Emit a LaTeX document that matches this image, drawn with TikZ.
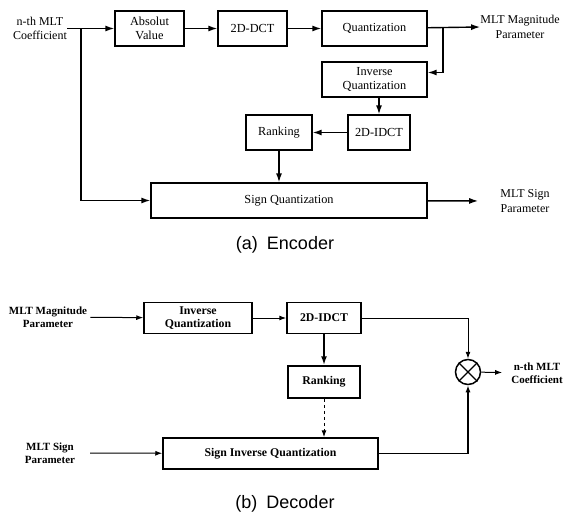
\documentclass[tikz,border=0pt]{standalone}
\usepackage{fontspec}
\setmainfont{Liberation Serif}
\newfontfamily\capfont{Liberation Sans}
\usetikzlibrary{arrows.meta}

\begin{document}
\begin{tikzpicture}[x=1pt, y=-1pt,
  blk/.style={draw, line width=1.3pt, minimum height=35pt, inner sep=1pt, align=center, font=\fontsize{12.3}{14.5}\selectfont},
  dblk/.style={blk, line width=1.5pt, minimum height=31pt, font=\bfseries\fontsize{11.8}{13}\selectfont},
  lbl/.style={align=center, inner sep=0pt, font=\fontsize{12}{14.5}\selectfont},
  dlbl/.style={lbl, font=\bfseries\fontsize{11}{13}\selectfont},
  arr/.style={-{Latex[length=9pt,width=6pt]}, line width=1.4pt},
  darr/.style={-{Latex[length=7pt,width=5pt]}, line width=1pt},
  capt/.style={font=\capfont\fontsize{18}{20}\selectfont}]
  \useasboundingbox (0,0) rectangle (564,516);
  % encoder
  \node[lbl] (cin) at (40,28.5) {n-th MLT\\Coefficient};
  \node[blk, minimum width=69pt] (av) at (149.5,28.5) {Absolut\\Value};
  \node[blk, minimum width=69pt] (dct) at (252.5,28.5) {2D-DCT};
  \node[blk, minimum width=105pt] (quant) at (374.5,28.5) {Quantization};
  \node[blk, minimum width=105pt] (iquant) at (374.5,79.5) {Inverse\\Quantization};
  \node[blk, minimum width=62pt] (idct) at (379,132.5) {2D-IDCT};
  \node[blk, minimum width=66pt] (rank) at (279,132.5) {Ranking};
  \node[blk, minimum width=276pt] (signq) at (289,200.5) {Sign Quantization};
  \node[lbl] (magout) at (520,27) {MLT Magnitude\\Parameter};
  \node[lbl] (signout) at (525,201) {MLT Sign\\Parameter};
  \coordinate (br1) at (81,28.5);
  \coordinate (br2) at (443,28.5);
  \draw[arr] (cin.east) -- (av.west);
  \draw[arr] (av) -- (dct);
  \draw[arr] (dct) -- (quant);
  \draw[arr] (quant) -- (magout.west);
  \draw[arr] (br2) |- ([yshift=7pt]iquant.east);
  \draw[arr] (idct.north |- iquant.south) -- (idct.north);
  \draw[arr] (idct) -- (rank);
  \draw[arr] (rank) -- (rank.south |- signq.north);
  \draw[arr] (br1) |- (signq.west);
  \draw[arr, shorten >=22pt] (signq) -- (signout.west);
  \node[capt] (enccap) at (285,245) {(a)\hspace{9pt}Encoder};
  % decoder
  \node[dlbl] (magin) at (48,317) {MLT Magnitude\\Parameter};
  \node[dblk, minimum width=108pt] (diquant) at (198,318) {Inverse\\Quantization};
  \node[dblk, minimum width=74pt] (didct) at (324,318) {2D-IDCT};
  \node[dblk, minimum width=72pt, minimum height=32pt] (drank) at (324,382) {Ranking};
  \node[dblk, minimum width=215pt] (dsignq) at (270.5,453.5) {Sign Inverse Quantization};
  \node[draw, circle, line width=1.5pt, minimum size=25pt, inner sep=0pt] (mult) at (468,372) {};
  \draw[line width=1.3pt] (mult.north west) -- (mult.south east) (mult.north east) -- (mult.south west);
  \node[dlbl] (cout) at (537,373) {n-th MLT\\Coefficient};
  \node[dlbl] (signin) at (50,453) {MLT Sign\\Parameter};
  \draw[darr, shorten <=3pt] (magin) -- (diquant);
  \draw[darr] (diquant) -- (didct);
  \draw[darr] (didct.east) -| (mult.north);
  \draw[arr, line width=1.8pt] (didct) -- (drank);
  \draw[darr, dashed] (drank.south) -- (drank.south |- dsignq.north);
  \draw[darr, shorten <=15pt] (signin) -- (dsignq);
  \draw[darr, line width=1.5pt] (dsignq.east) -| (mult.south);
  \draw[darr, shorten >=9pt] (mult) -- (cout);
  \node[capt] (deccap) at (285,504) {(b)\hspace{9pt}Decoder};
\end{tikzpicture}
\end{document}
